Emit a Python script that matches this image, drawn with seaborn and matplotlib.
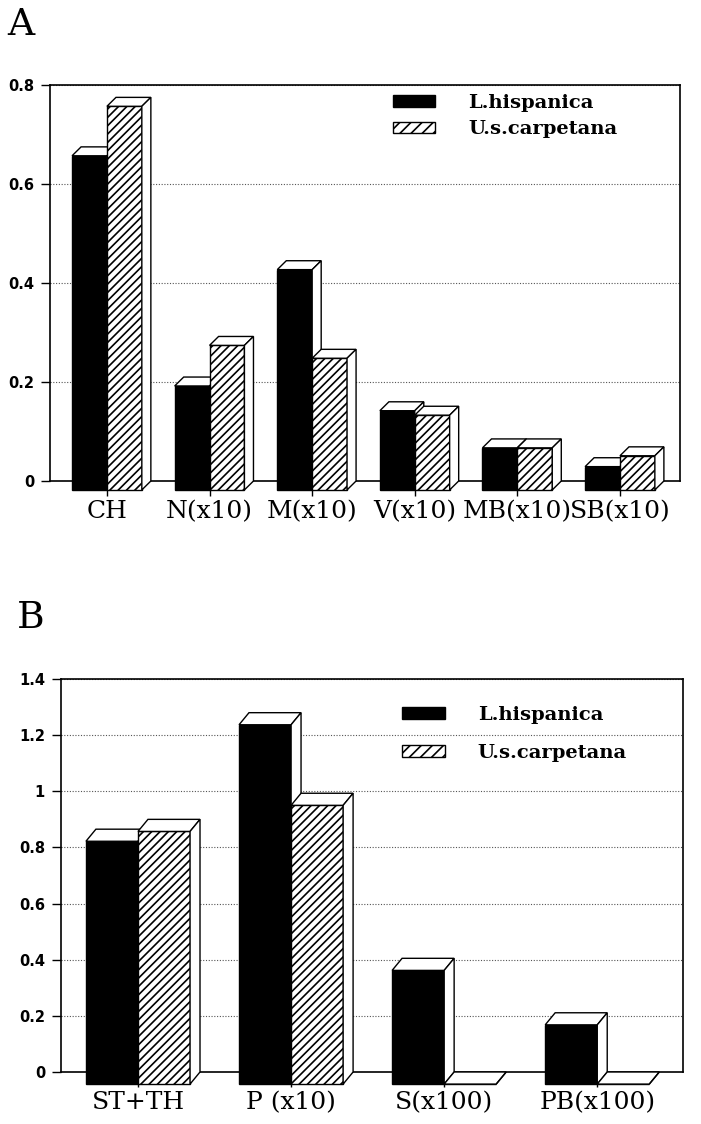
import matplotlib
matplotlib.use("Agg")
import matplotlib.pyplot as plt
import matplotlib.patches as mpatches
import pandas as pd
import seaborn as sns

SPECIES = ["L.hispanica", "U.s.carpetana"]
PALETTE = {"L.hispanica": "black", "U.s.carpetana": "white"}

# panel A
A_CATS = ["CH", "N(x10)", "M(x10)", "V(x10)", "MB(x10)", "SB(x10)"]
A_LH = [0.675, 0.21, 0.445, 0.16, 0.085, 0.047]
A_US = [0.775, 0.292, 0.266, 0.151, 0.085, 0.069]
A_TICKS = [0, 0.2, 0.4, 0.6, 0.8]
A_TICKLABELS = ["0", "0.2", "0.4", "0.6", "0.8"]

# panel B
B_CATS = ["ST+TH", "P (x10)", "S(x100)", "PB(x100)"]
B_LH = [0.865, 1.28, 0.405, 0.211]
B_US = [0.90, 0.993, 0.0, 0.0]
B_TICKS = [0, 0.2, 0.4, 0.6, 0.8, 1.0, 1.2, 1.4]
B_TICKLABELS = ["0", "0.2", "0.4", "0.6", "0.8", "1", "1.2", "1.4"]

sns.set_theme(style="white")
plt.rcParams.update({
    "font.family": ["DejaVu Sans"],
    "hatch.linewidth": 1.2,
    "axes.edgecolor": "black",
    "axes.linewidth": 1.2,
    "text.color": "black",
    "xtick.color": "black",
    "ytick.color": "black",
    "axes.labelcolor": "black",
})


def draw_panel(ax, cats, lh, us, ticks, ticklabels, xlim, dx, dy, leg_anchor, leg_spacing):
    df = pd.DataFrame({
        "cat": cats + cats,
        "species": [SPECIES[0]] * len(cats) + [SPECIES[1]] * len(cats),
        "value": lh + us,
    })
    sns.barplot(data=df, x="cat", y="value", hue="species", hue_order=SPECIES,
                palette=PALETTE, width=0.68, saturation=1, edgecolor="black",
                linewidth=1.0, legend=False, ax=ax)

    # fake 3D: push front face down-left, add top and side faces
    for j, cont in enumerate(ax.containers):
        z = 3 + j
        for p in cont:
            x0, w, h = p.get_x(), p.get_width(), p.get_height()
            p.set_y(-dy)
            p.set_zorder(z)
            p.set_clip_on(False)
            if j == 1:
                p.set_hatch("////")
            top = mpatches.Polygon(
                [(x0, h - dy), (x0 + w, h - dy), (x0 + w + dx, h), (x0 + dx, h)],
                closed=True, facecolor="white", edgecolor="black", lw=1.0,
                zorder=z, clip_on=False)
            side = mpatches.Polygon(
                [(x0 + w, -dy), (x0 + w + dx, 0), (x0 + w + dx, h), (x0 + w, h - dy)],
                closed=True, facecolor="white", edgecolor="black", lw=1.0,
                zorder=z, clip_on=False)
            ax.add_patch(top)
            ax.add_patch(side)

    ax.set_xlim(*xlim)
    ax.set_ylim(ticks[0], ticks[-1])
    ax.set_yticks(ticks)
    ax.set_yticklabels(ticklabels, fontweight="bold", fontsize=10.5)
    ax.set_xticks(range(len(cats)))
    ax.set_xticklabels(cats, family="DejaVu Serif", fontsize=18)
    ax.set_xlabel("")
    ax.set_ylabel("")
    ax.tick_params(axis="y", direction="out", length=6.5, width=1.0, pad=5, left=True)
    ax.tick_params(axis="x", direction="out", length=11, width=1.0, pad=3, bottom=True)
    ax.set_axisbelow(True)
    ax.yaxis.grid(True, color="#555555", linestyle=(0, (1, 1.5)), linewidth=0.8)
    ax.xaxis.grid(False)
    for s in ax.spines.values():
        s.set_visible(True)
        s.set_color("black")
        s.set_linewidth(1.2)

    handles = [
        mpatches.Patch(facecolor="black", edgecolor="black"),
        mpatches.Patch(facecolor="white", edgecolor="black", hatch="///"),
    ]
    ax.legend(handles, SPECIES, loc="upper left", bbox_to_anchor=leg_anchor,
              frameon=False, borderpad=0, borderaxespad=0, handlelength=2.2,
              handleheight=0.55, handletextpad=1.7, labelspacing=leg_spacing,
              prop={"family": "DejaVu Serif", "weight": "bold", "size": 14})


fig = plt.figure(figsize=(7.01, 11.24), dpi=100)
ax_a = fig.add_axes([50 / 701, 1 - 481 / 1124, 630 / 701, 396 / 1124])
ax_b = fig.add_axes([61 / 701, 1 - 1072 / 1124, 622 / 701, 393 / 1124])

draw_panel(ax_a, A_CATS, A_LH, A_US, A_TICKS, A_TICKLABELS,
           (-0.555, 5.585), 0.088, 0.018, (0.544, 0.977), 0.43)
draw_panel(ax_b, B_CATS, B_LH, B_US, B_TICKS, B_TICKLABELS,
           (-0.503, 3.56), 0.065, 0.043, (0.548, 0.931), 1.0)

fig.text(7 / 701, 1 - 35 / 1124, "A", family="DejaVu Serif", fontsize=27, va="baseline")
fig.text(17 / 701, 1 - 628 / 1124, "B", family="DejaVu Serif", fontsize=27, va="baseline")

fig.savefig("out.png", dpi=100)
